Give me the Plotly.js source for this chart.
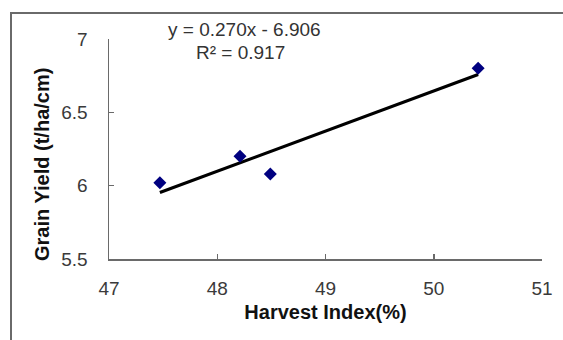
<!DOCTYPE html>
<html>
<head>
<meta charset="utf-8">
<script src="https://cdn.plot.ly/plotly-3.0.1.min.js"></script>
<style>
  html, body { margin: 0; padding: 0; background: #fff; }
  #wrap { position: relative; width: 563px; height: 340px; overflow: hidden; }
  #chart { position: absolute; left: 0; top: 0; width: 563px; height: 340px; }
  #frame { position: absolute; left: 10px; top: 12px; width: 600px; height: 400px;
           border-left: 2px solid #6a6a6a; border-top: 2px solid #6a6a6a; pointer-events: none; }
</style>
</head>
<body>
<div id="wrap">
  <div id="chart"></div>
  <div id="frame"></div>
</div>
<script>
// Data
const harvestIndex = [47.47, 48.21, 48.49, 50.41];   // x, %
const grainYield   = [6.02, 6.20, 6.08, 6.80];       // y, t/ha/cm
const xTickVals = [47, 48, 49, 50, 51];
const yTickVals = [5.5, 6, 6.5, 7];
const yTickText = ["5.5", "6", "6.5", "7"];
const xTitle = "Harvest Index(%)";
const yTitle = "Grain Yield (t/ha/cm)";
const equationText = "y = 0.270x - 6.906";
const r2Text = "R\u00b2 = 0.917";

// Linear least-squares trendline from the data
const n = harvestIndex.length;
const mx = harvestIndex.reduce((a, b) => a + b, 0) / n;
const my = grainYield.reduce((a, b) => a + b, 0) / n;
let sxy = 0, sxx = 0;
for (let i = 0; i < n; i++) {
  sxy += (harvestIndex[i] - mx) * (grainYield[i] - my);
  sxx += (harvestIndex[i] - mx) ** 2;
}
const slope = sxy / sxx;
const intercept = my - slope * mx;
const xMin = Math.min(...harvestIndex), xMax = Math.max(...harvestIndex);
const trendX = [xMin, xMax];
const trendY = trendX.map(x => slope * x + intercept);

const FONT = "Liberation Sans, Arial, sans-serif";

const traces = [
  {
    x: trendX, y: trendY, type: "scatter", mode: "lines",
    line: { color: "#000000", width: 3.2 }, hoverinfo: "skip", showlegend: false
  },
  {
    x: harvestIndex, y: grainYield, type: "scatter", mode: "markers",
    marker: { symbol: "diamond", size: 10, color: "#000080" }, showlegend: false
  }
];

const layout = {
  width: 563, height: 340,
  margin: { l: 109, r: 21, t: 39, b: 81, pad: 0 },
  paper_bgcolor: "rgba(0,0,0,0)",
  plot_bgcolor: "rgba(0,0,0,0)",
  font: { family: FONT, color: "#333333" },
  showlegend: false,
  xaxis: {
    range: [47, 51], tickvals: xTickVals, ticktext: xTickVals.map(String),
    showgrid: false, zeroline: false, showline: true, linecolor: "#6a6a6a", linewidth: 1.5,
    ticks: "inside", ticklen: 5, tickcolor: "#6a6a6a", tickwidth: 1.5,
    tickfont: { size: 19, color: "#3a3a3a", family: FONT },
    ticklabelstandoff: 12,
    title: { text: xTitle, font: { size: 20, color: "#111111", family: FONT, weight: "bold" }, standoff: 6 }
  },
  yaxis: {
    range: [5.5, 7], tickvals: yTickVals, ticktext: yTickText,
    showgrid: false, zeroline: false, showline: true, linecolor: "#6a6a6a", linewidth: 1.5,
    ticks: "inside", ticklen: 5, tickcolor: "#6a6a6a", tickwidth: 1.5,
    tickfont: { size: 19, color: "#3a3a3a", family: FONT },
    ticklabelstandoff: 16
  },
  annotations: [
    { text: yTitle, xref: "paper", yref: "paper", x: (42 - 109) / 433, y: (259 - 165) / 220,
      xanchor: "center", yanchor: "middle", textangle: -90, showarrow: false,
      font: { size: 20, color: "#111111", family: FONT, weight: "bold" } },
    { text: equationText, xref: "paper", yref: "paper", x: (244 - 109) / 433, y: (259 - 30) / 220,
      xanchor: "center", yanchor: "middle", showarrow: false,
      font: { size: 19, color: "#333333", family: FONT } },
    { text: r2Text, xref: "paper", yref: "paper", x: (240 - 109) / 433, y: (259 - 53) / 220,
      xanchor: "center", yanchor: "middle", showarrow: false,
      font: { size: 19, color: "#333333", family: FONT } }
  ]
};

Plotly.newPlot("chart", traces, layout, { displayModeBar: false, staticPlot: true });
</script>
</body>
</html>
